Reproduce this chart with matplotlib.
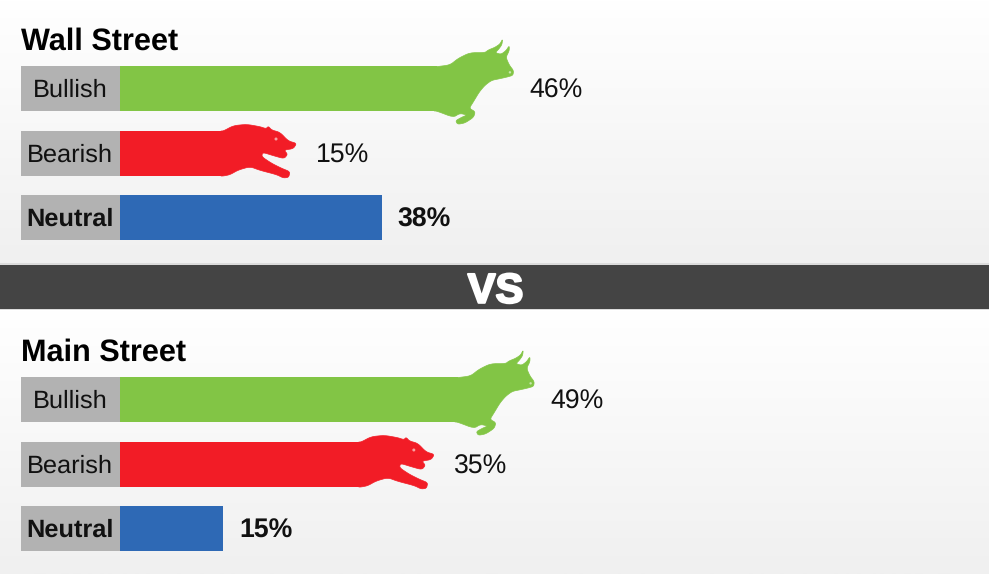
import numpy as np
import matplotlib
matplotlib.use('Agg')
import matplotlib.pyplot as plt
import matplotlib.patheffects as pe
from matplotlib.colors import LinearSegmentedColormap
from matplotlib.patches import Polygon, Circle

plt.rcParams['font.family'] = ['Liberation Sans', 'DejaVu Sans']
plt.rcParams['text.hinting'] = 'no_hinting'

categories = ['Bullish', 'Bearish', 'Neutral']
wall_values = [46, 15, 38]
main_values = [49, 35, 15]
panel_titles = ['Wall Street', 'Main Street']

GREEN = '#82c545'
RED = '#f21c26'
BLUE = '#2e69b5'
GREY = '#b2b2b2'
colors = [GREEN, RED, BLUE]

PX_PER_PCT = 6.89
BAR_X = 120
BAR_H = 45


def soften(pts, rounds=2):
    # corner cutting, the reference silhouettes are blurry
    for _ in range(rounds):
        nxt = np.roll(pts, -1, axis=0)
        pts = np.column_stack([0.8 * pts + 0.2 * nxt, 0.2 * pts + 0.8 * nxt]).reshape(-1, 2)
    return pts


bull = np.array([(50,110),(90,105),(115,85),(150,68),(195,68),(205,60),(225,52),(240,42),(248,27),
                 (246,44),(236,58),(226,68),(243,73),(258,62),(268,47),(268,62),(258,82),
                 (268,105),(281,122),(279,136),(262,141),(240,146),(215,151),(195,166),(178,186),
                 (160,216),(148,235),(166,245),(161,262),(135,279),(113,283),(107,272),
                 (125,262),(141,255),(120,250),(100,262),(50,243),(40,243),(40,110)]) / 3.0 + (-17, -36)
bear = np.array([(40,48),(70,32),(110,28),(150,35),(168,41),(175,34),(185,45),(210,52),
                 (235,78),(260,85),(250,101),(222,105),(233,118),(222,131),(190,122),
                 (158,112),(155,125),(185,145),(215,160),(240,170),(236,187),(220,189),
                 (200,179),(150,166),(120,155),(85,165),(60,179),(40,183),(30,183),(30,48)]) / 3.0 + (-13.33, -16)
bear_eye = np.array((198, 72)) / 3.0 + (-13.33, -16)
bull_nose = np.array((270, 127)) / 3.0 + (-17, -36)
bull = soften(bull)
bear = soften(bear)


def draw_panel(ax, title, values, title_y, rows_y):
    ax.text(21, title_y, title, fontsize=22.1, fontweight='bold', va='center', ha='left', color='black')
    for i, (cat, val, y) in enumerate(zip(categories, values, rows_y)):
        width = val * PX_PER_PCT
        ax.barh(y + BAR_H / 2, BAR_X - 21, height=BAR_H, left=21, color=GREY, zorder=2)
        ax.barh(y + BAR_H / 2, width, height=BAR_H, left=BAR_X, color=colors[i], zorder=2)
        end = BAR_X + width
        bold = cat == 'Neutral'
        ax.text((21 + BAR_X) / 2 - 0.5, y + BAR_H / 2 - 1, cat, fontsize=18.3,
                fontweight='bold' if bold else 'normal', ha='center', va='center_baseline',
                color='#111111', zorder=3)
        if cat == 'Bullish':
            ax.add_patch(Polygon(bull + (end, y), closed=True, fc=colors[i], ec=colors[i], lw=0.5, zorder=3))
            ax.add_patch(Circle(bull_nose + (end, y), 1.2, fc='#c9e6ad', ec='none', zorder=4))
            offset = 92.5
        elif cat == 'Bearish':
            ax.add_patch(Polygon(bear + (end, y), closed=True, fc=colors[i], ec=colors[i], lw=0.5, zorder=3))
            ax.add_patch(Circle(bear_eye + (end, y), 1.5, fc='#f9a0a0', ec='none', zorder=4))
            offset = 93
        else:
            offset = 15.5
        ax.text(end + offset, y + BAR_H / 2 - 1, '%d%%' % val, fontsize=19.2,
                fontweight='bold' if bold else 'normal', ha='left', va='center_baseline',
                color='#111111', zorder=3)


fig = plt.figure(figsize=(9.89, 5.74), dpi=100)
ax = fig.add_axes([0, 0, 1, 1])
ax.set_xlim(0, 989)
ax.set_ylim(574, 0)
ax.axis('off')

# panel backgrounds, white fading to light grey
cmap = LinearSegmentedColormap.from_list('panel', ['#ffffff', '#f0f0f0'])
grad = np.linspace(0, 1, 256).reshape(-1, 1)
ax.imshow(grad, extent=(0, 989, 263, 0), cmap=cmap, aspect='auto', zorder=0, vmin=0, vmax=1)
ax.imshow(grad, extent=(0, 989, 574, 310), cmap=cmap, aspect='auto', zorder=0, vmin=0, vmax=1)
ax.set_xlim(0, 989)
ax.set_ylim(574, 0)

# VS band
ax.axhspan(263, 265, color='#dcdcdc', lw=0, zorder=1)
ax.axhspan(265, 309, color='#444444', lw=0, zorder=1)
ax.axhspan(309, 310, color='#dcdcdc', lw=0, zorder=1)
ax.text(495.5, 287.5, 'VS', fontsize=30, fontweight='bold', color='white', ha='center',
        va='center_baseline', zorder=3,
        path_effects=[pe.withStroke(linewidth=1.6, foreground='white')])

draw_panel(ax, panel_titles[0], wall_values, 42, [66, 131, 195])
draw_panel(ax, panel_titles[1], main_values, 353, [377, 442, 506])

fig.savefig('out.png', dpi=100)
